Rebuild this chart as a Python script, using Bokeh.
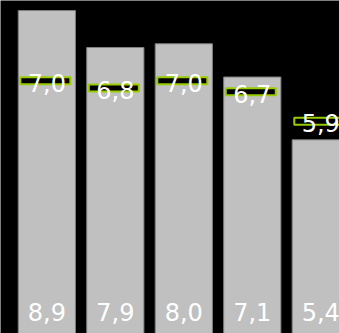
from bokeh.plotting import figure
from bokeh.models import Range1d, ColumnDataSource
from bokeh.core.properties import value
from bokeh.embed import file_html
from bokeh.resources import INLINE

# Data
categories = ["1", "2", "3", "4", "5"]
bar_values = [8.9, 7.9, 8.0, 7.1, 5.4]
marker_values = [7.0, 6.8, 7.0, 6.7, 5.9]
bar_labels = ["8,9", "7,9", "8,0", "7,1", "5,4"]
marker_labels = ["7,0", "6,8", "7,0", "6,7", "5,9"]

xs = list(range(len(categories)))
src = ColumnDataSource(dict(
    x=xs,
    xm=[x - 0.022 for x in xs],
    bar=bar_values,
    mk=marker_values,
    zero=[0] * len(xs),
    bl=bar_labels,
    ml=marker_labels,
))

p = figure(width=339, height=333, output_backend="svg", toolbar_location=None,
           x_range=Range1d(-0.6768, 4.2735), y_range=Range1d(0.157, 9.172),
           min_border=0, min_border_left=0, min_border_right=0,
           min_border_top=0, min_border_bottom=0)
p.xaxis.visible = False
p.yaxis.visible = False
p.grid.visible = False
p.outline_line_color = None
p.background_fill_color = "#000000"
p.border_fill_color = "#000000"

p.vbar(x="x", top="bar", bottom=0, width=0.835, source=src,
       fill_color="#c0c0c0", line_color="#808080", line_width=1)

p.rect(x="xm", y="mk", width=0.73, height=7, height_units="screen", source=src,
       fill_color="#000000", line_color="#99cc00", line_width=2)

p.text(x="x", y="mk", text="ml", source=src, text_color="#ffffff",
       text_font=value("DejaVu Sans"), text_font_size="24px",
       text_align="center", text_baseline="middle", y_offset=2)

p.text(x="x", y="zero", text="bl", source=src, text_color="#ffffff",
       text_font=value("DejaVu Sans"), text_font_size="24px",
       text_align="center", text_baseline="middle", y_offset=-27)

html = file_html(p, INLINE)
html = html.replace("<body>", '<body style="background:#000000;margin:0;overflow:hidden">', 1)
open("out.html", "w").write(html)
